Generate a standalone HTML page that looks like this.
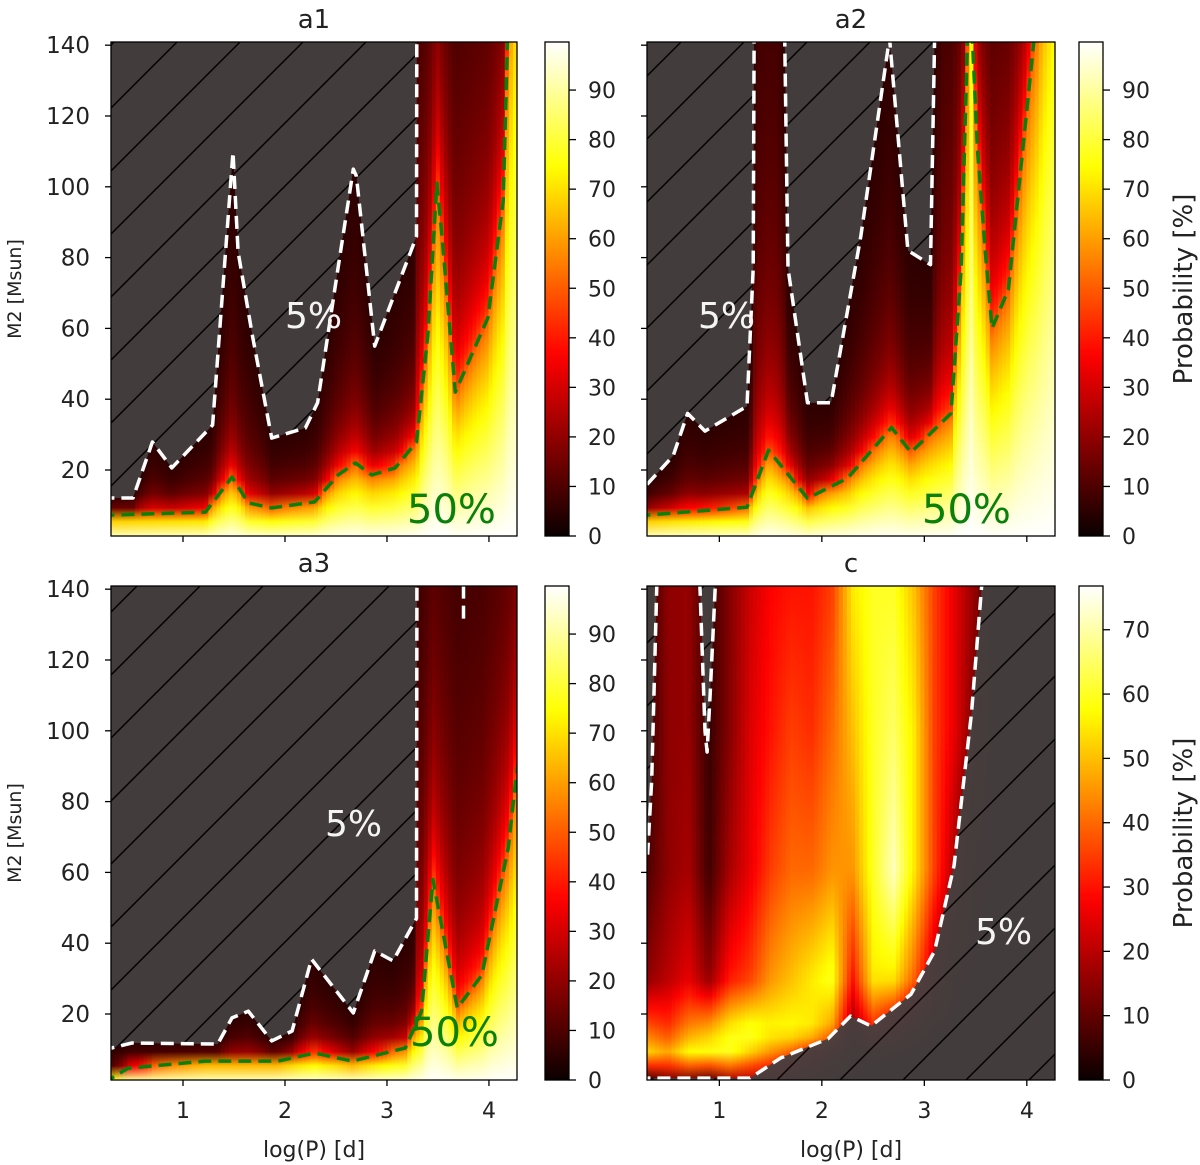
<!DOCTYPE html>
<html><head><meta charset="utf-8"><style>
html,body{margin:0;padding:0;background:#fff;}
svg{display:block;font-family:"DejaVu Sans","Liberation Sans",sans-serif;}
</style></head><body>
<svg id="fig" width="1200" height="1165" viewBox="0 0 1200 1165">
<defs>
<pattern id="hatch" patternUnits="userSpaceOnUse" width="63" height="63" patternTransform="translate(30,0)">
<rect width="63" height="63" fill="#453f3f"/>
<line x1="-2" y1="65" x2="65" y2="-2" stroke="#000" stroke-width="1.5"/>
<line x1="-2" y1="2" x2="2" y2="-2" stroke="#000" stroke-width="1.5"/>
<line x1="61" y1="65" x2="65" y2="61" stroke="#000" stroke-width="1.5"/>
</pattern>
</defs>
</svg>
<script>
// ---- data (logP nodes, contour masses) ----
const A1_LP5  = [0.2,0.29,0.51,0.70,0.89,1.29,1.49,1.54,1.68,1.87,2.20,2.32,2.52,2.67,2.70,2.88,3.29,3.30,4.4];
const A1_M5   = [12.1,12.1,12.1,27.9,20.6,32.7,109.8,81.6,58,29,31.9,39,77,105,103,55,86,300,300];
const A1_LP50 = [0.2,0.30,1.22,1.48,1.64,1.87,2.29,2.52,2.69,2.85,3.08,3.29,3.40,3.49,3.54,3.67,3.99,4.14,4.19,4.4];
const A1_M50  = [7.3,7.3,8.1,18,10.7,9.3,11,18.6,22,18.6,20.6,27.9,58,101,86,42,63,96,150,300];

const A2_LP5  = [0.2,0.29,0.55,0.69,0.86,1.27,1.33,1.36,1.56,1.67,1.86,2.09,2.38,2.66,2.84,3.06,3.20,4.4];
const A2_M5   = [11,15.8,24,36,31,38,77,300,300,77,39,39,86,142,82,78,300,300];
const A2_LP50 = [0.2,0.30,1.27,1.48,1.86,2.25,2.68,2.87,3.26,3.36,3.42,3.44,3.45,3.47,3.52,3.60,3.66,3.82,4.10,4.4];
const A2_M50  = [7.3,7.3,9.5,25.6,12,17.7,32,25,36,77,141,300,300,141,110,80,60,71,150,300];

const A3_LP5  = [0.2,0.30,0.50,1.34,1.48,1.64,1.87,2.07,2.26,2.67,2.88,3.06,3.29,3.30,4.4];
const A3_M5   = [10.4,10.4,11.8,11.5,18.9,20.8,12.4,15.2,35.5,20.3,37.8,35,47,300,300];
const A3_LP50 = [0.2,0.30,0.46,1.22,1.93,2.29,2.66,3.18,3.34,3.45,3.69,3.93,4.19,4.27,4.4];
const A3_M50  = [1.9,1.9,4.7,6.7,6.7,9,6.7,10.4,20.8,58,21.7,31,67,88,110];
const A3_STUB_M = [141,131];
const A3_STUB_LP = [3.75,3.75];

// panel c probability grid (rows = masses, columns = logP)
const C_LP = [0.3,0.5,0.7,0.9,1.1,1.3,1.5,1.7,1.9,2.1,2.3,2.5,2.7,2.9,3.1,3.3,3.5,3.7,4.3];
const C_M  = [2,8,15,30,60,100,141];
const C_VALS = [
 [5,55,40,15,8,5,5],
 [12,50,35,20,15,15,15],
 [12,60,45,25,18,16,16],
 [8,60,50,15,6,5,5],
 [18,60,58,30,18,14,14],
 [20,50,62,35,26,24,22],
 [20,42,58,45,35,30,28],
 [15,35,58,50,40,35,30],
 [10,25,55,55,40,33,30],
 [5,15,45,60,45,40,35],
 [3,5,15,30,45,50,55],
 [2,3,30,55,60,60,60],
 [2,2,20,55,72,65,60],
 [2,2,10,40,55,55,50],
 [2,2,3,20,35,35,35],
 [2,2,2,5,18,25,25],
 [2,2,2,2,5,12,15],
 [2,2,2,2,2,2,2],
 [2,2,2,2,2,2,2]
];
const C_LEFT_LP = [0.39,0.39,0.34,0.30,0.2];
const C_LEFT_M  = [300,141,86,65,65];
const C_SPIKE_LP = [0.81,0.81,0.86,0.88,0.91,0.96,0.96];
const C_SPIKE_M  = [300,141,100,94,110,141,300];
const C_MAIN_LP = [0.2,0.30,1.30,1.60,2.06,2.28,2.48,2.87,3.10,3.29,3.46,3.56,3.58];
const C_MAIN_M  = [1.9,1.9,1.9,7.6,13,19.4,16.6,25.6,37.8,62,105,141,300];

const Y_TICKS = [20,40,60,80,100,120,140];
const X_TICKS = [1,2,3,4];
const CB_TICKS_A = [0,10,20,30,40,50,60,70,80,90];
const CB_TICKS_C = [0,10,20,30,40,50,60,70];

// ---- helpers ----
const NS = "http://www.w3.org/2000/svg";
const svg = document.getElementById('fig');
const defs = svg.querySelector('defs');
function el(tag, attrs, parent){ const e=document.createElementNS(NS,tag); for(const k in attrs) e.setAttribute(k,attrs[k]); (parent||svg).appendChild(e); return e; }
const XMIN=0.294, XMAX=4.275, YMIN=1.36, YMAX=140.9;
function clamp(v,a,b){return Math.max(a,Math.min(b,v));}
function hot(v){ const x=clamp(v,0,1);
 const r=0.0416+(1-0.0416)*Math.min(1,x/0.365079);
 const g=clamp((x-0.365079)/(0.746032-0.365079),0,1);
 const b=clamp((x-0.746032)/0.253968,0,1);
 return 'rgb('+Math.round(r*255)+','+Math.round(g*255)+','+Math.round(b*255)+')'; }
function interp(xs,ys,x){ if(x<=xs[0]) return ys[0]; for(let i=1;i<xs.length;i++){ if(x<=xs[i]){ const t=(x-xs[i-1])/(xs[i]-xs[i-1]||1); return ys[i-1]+t*(ys[i]-ys[i-1]); } } return ys[ys.length-1]; }
function pA(m,m5,m50){
 if(m<=m50) return 50+50*Math.pow(1-m/m50,0.8);
 if(m<=m5){ const t=Math.log(m/m50)/Math.log(m5/m50); return 50*Math.pow(0.1,Math.pow(t,0.8)); }
 return Math.max(0.5,5*Math.pow(m5/m,3));
}
function pC(lp,m){
 const col = C_M.map((_,j)=>interp(C_LP, C_VALS.map(r=>r[j]), lp));
 return interp(C_M, col, m);
}
let gid=0;
function makePanel(name, L, T, W, H, valueFn, vmax){
 const xs = lp => L + (lp-XMIN)*W/(XMAX-XMIN);
 const ys = m => T + H - (m-YMIN)*H/(YMAX-YMIN);
 const cp = el('clipPath',{id:'clip-'+name},defs);
 el('rect',{x:L,y:T,width:W,height:H},cp);
 const g = el('g',{'clip-path':'url(#clip-'+name+')'});
 
 
 const N=100, K=36, dx=(XMAX-XMIN)/N;
 for(let i=0;i<N;i++){
  const lp = XMIN+(i+0.5)*dx;
  const id='gr'+(gid++);
  const lg = el('linearGradient',{id:id,x1:0,y1:1,x2:0,y2:0},defs);
  for(let k=0;k<K;k++){
   const m = YMIN+k*(YMAX-YMIN)/(K-1);
   el('stop',{offset:(k/(K-1)).toFixed(3),'stop-color':hot(valueFn(lp,m)/vmax)},lg);
  }
  const r = el('rect',{x:xs(XMIN+i*dx).toFixed(2),y:T,width:(W/N+0.7).toFixed(2),height:H,fill:'url(#'+id+')'},g);
  
  
 }
 return {xs,ys,g,L,T,W,H};
}
function polyPts(P, lps, ms){ return lps.map((lp,i)=>P.xs(lp).toFixed(1)+','+P.ys(ms[i]).toFixed(1)).join(' '); }
function hatchPoly(P, pts, nm){
 const p = el('polygon',{points:pts,fill:'url(#hatch)','fill-opacity':0.95},P.g);
 
 
}
function dashLine(P, lps, ms, color, nm){
 const p = el('polyline',{points:polyPts(P,lps,ms),fill:'none',stroke:color,'stroke-width':3.5,'stroke-dasharray':'13 7','stroke-linejoin':'round'},P.g);
 
 
}
function axes(P, name, showY, showX, title){
 const f = el('rect',{x:P.L,y:P.T,width:P.W,height:P.H,fill:'none',stroke:'#000','stroke-width':1.3});
 
 
 Y_TICKS.forEach(v=>{
  el('line',{x1:P.L-6,x2:P.L,y1:P.ys(v),y2:P.ys(v),stroke:'#000','stroke-width':1.3});
  if(showY){ const t=el('text',{x:P.L-21,y:P.ys(v)+8,'text-anchor':'end','font-size':23,fill:'#222'}); t.textContent=v;
     }
 });
 X_TICKS.forEach(v=>{
  el('line',{x1:P.xs(v),x2:P.xs(v),y1:P.T+P.H,y2:P.T+P.H+6,stroke:'#000','stroke-width':1.3});
  if(showX){ const t=el('text',{x:P.xs(v),y:P.T+P.H+38,'text-anchor':'middle','font-size':22,fill:'#222'}); t.textContent=v;
     }
 });
 const tt = el('text',{x:P.L+P.W/2,y:P.T-14,'text-anchor':'middle','font-size':26,fill:'#222'}); tt.textContent=title;
  
 if(showY){ const yl=el('text',{x:0,y:0,'text-anchor':'middle','font-size':19,fill:'#222',transform:'translate(21,'+(P.T+P.H/2)+') rotate(-90)'}); yl.textContent='M2 [Msun]';
    }
 if(showX){ const xl=el('text',{x:P.L+P.W/2,y:P.T+P.H+77,'text-anchor':'middle','font-size':22,fill:'#222'}); xl.textContent='log(P) [d]';
    }
}
function colorbar(name, x, T, H, vmax, ticks, label){
 const id='cb'+(gid++);
 const lg = el('linearGradient',{id:id,x1:0,y1:1,x2:0,y2:0},defs);
 for(let k=0;k<=40;k++) el('stop',{offset:k/40,'stop-color':hot(k/40)},lg);
 const r = el('rect',{x:x,y:T,width:24,height:H,fill:'url(#'+id+')',stroke:'#000','stroke-width':1.3});
 
 
 ticks.forEach(v=>{ const y=T+H-v/vmax*H;
  el('line',{x1:x+24,x2:x+31,y1:y,y2:y,stroke:'#000','stroke-width':1.3});
  const t=el('text',{x:x+43,y:y+8,'font-size':22,fill:'#222'}); t.textContent=v;
   
 });
 if(label){ const l=el('text',{x:0,y:0,'text-anchor':'middle','font-size':26,fill:'#222',transform:'translate(1192,'+(T+H/2)+') rotate(-90)'}); l.textContent=label;
    }
}
function label(x,y,txt,color,size,nm){ const t=el('text',{x:x,y:y,'font-size':size,fill:color}); t.textContent=txt;
   }

function aPanel(name,L,T,lp5,m5,lp50,m50,title,showY,showX){
 const P = makePanel(name,L,T,W_(L),494,(lp,m)=>pA(m,interp(lp5,m5,lp),interp(lp50,m50,lp)),99.7);
 const pts = polyPts(P,lp5,m5)+' '+P.xs(4.4)+','+(T-600)+' '+P.xs(0.2)+','+(T-600);
 hatchPoly(P,pts,name+'-hatch-region');
 dashLine(P,lp50,m50,'#0a800a',name+'-contour-50');
 dashLine(P,lp5,m5,'#ffffff',name+'-contour-5');
 axes(P,name,showY,showX,title);
 return P;
}
function W_(L){ return L<600?406:408; }

const P1 = aPanel('a1',111,42,A1_LP5,A1_M5,A1_LP50,A1_M50,'a1',true,false);
const P2 = aPanel('a2',647,42,A2_LP5,A2_M5,A2_LP50,A2_M50,'a2',false,false);
const P3 = aPanel('a3',111,586,A3_LP5,A3_M5,A3_LP50,A3_M50,'a3',true,true);
dashLine(P3,A3_STUB_LP,A3_STUB_M,'#ffffff','a3-contour-5-stub');

const PC = makePanel('c',647,586,408,494,(lp,m)=>pC(lp,m),76.8);
hatchPoly(PC, polyPts(PC,C_LEFT_LP,C_LEFT_M), 'c-hatch-left');
hatchPoly(PC, polyPts(PC,C_SPIKE_LP,C_SPIKE_M), 'c-hatch-spike');
hatchPoly(PC, polyPts(PC,C_MAIN_LP,C_MAIN_M)+' '+PC.xs(4.4)+','+(586-600)+' '+PC.xs(4.4)+','+(1200)+' '+PC.xs(0.2)+','+1200, 'c-hatch-right');
dashLine(PC,C_LEFT_LP.slice(0,4),C_LEFT_M.slice(0,4),'#ffffff','c-contour-5-left');
dashLine(PC,C_SPIKE_LP,C_SPIKE_M,'#ffffff','c-contour-5-spike');
dashLine(PC,C_MAIN_LP,C_MAIN_M,'#ffffff','c-contour-5-main');
axes(PC,'c',false,true,'c');

colorbar('a1',545,42,494,99.7,CB_TICKS_A,null);
colorbar('a2',1079,42,494,99.7,CB_TICKS_A,'Probability [%]');
colorbar('a3',545,586,494,99.7,CB_TICKS_A,null);
colorbar('c',1079,586,494,76.8,CB_TICKS_C,'Probability [%]');

label(285,328,'5%','#f4f4f4',36,'a1-label-5pct');
label(407,523,'50%','#0a800a',40,'a1-label-50pct');
label(698,328,'5%','#f4f4f4',36,'a2-label-5pct');
label(922,523,'50%','#0a800a',40,'a2-label-50pct');
label(325,836,'5%','#f4f4f4',36,'a3-label-5pct');
label(410,1046,'50%','#0a800a',40,'a3-label-50pct');
label(975,944,'5%','#f4f4f4',36,'c-label-5pct');
</script>
</body></html>
